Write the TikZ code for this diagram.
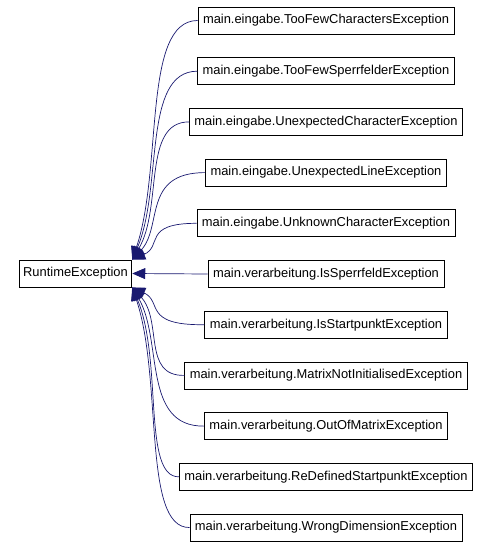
\documentclass[tikz,border=0pt]{standalone}
\usepackage{fontspec}
\newfontfamily\arialfont{Liberation Sans}
\usetikzlibrary{arrows.meta}
\definecolor{edgeblue}{HTML}{191970}

\begin{document}
\begin{tikzpicture}[
    x=1pt, y=-1pt,
    cls/.style={draw, rectangle, line width=0.8pt, minimum height=27pt, inner xsep=5pt, inner ysep=0pt, font={\arialfont\fontsize{12.9}{14}\selectfont}},
    inherit/.style={{Triangle[length=13pt,width=11pt]}-, draw=edgeblue, fill=none, line width=0.7pt},
]
\useasboundingbox (0,0) rectangle (489,547);

% Base class
\node (rt) [cls, inner xsep=4pt] at (75.5,273.5) {RuntimeException};

% Subclasses
\foreach \n/\t [count=\i] in {
    tfc/main.eingabe.TooFewCharactersException,
    tfs/main.eingabe.TooFewSperrfelderException,
    uch/main.eingabe.UnexpectedCharacterException,
    ul/main.eingabe.UnexpectedLineException,
    uk/main.eingabe.UnknownCharacterException,
    isf/main.verarbeitung.IsSperrfeldException,
    isp/main.verarbeitung.IsStartpunktException,
    mni/main.verarbeitung.MatrixNotInitialisedException,
    oom/main.verarbeitung.OutOfMatrixException,
    rds/main.verarbeitung.ReDefinedStartpunktException,
    wd/main.verarbeitung.WrongDimensionException}{
  \pgfmathsetmacro\cy{20.5+50.7*(\i-1)}
  \node (\n) [cls] at (326,\cy) {\t};
}

% Inheritance arrows
\foreach \n [count=\i] in {tfc,tfs,uch,ul,uk}{
  \pgfmathsetmacro\cy{20.5+50.7*(\i-1)}
  \draw [inherit] (rt.north east) .. controls (163,{260-0.38*(260-\cy)}) and (142,\cy) .. (\n.west);
}
\draw [inherit] (rt.east) -- (isf.west);
\foreach \n [count=\i] in {isp,mni,oom,rds,wd}{
  \pgfmathsetmacro\cy{325.5+50.7*(\i-1)}
  \draw [inherit] (rt.south east) .. controls (163,{287+0.38*(\cy-287)}) and (142,\cy) .. (\n.west);
}

\end{tikzpicture}
\end{document}
